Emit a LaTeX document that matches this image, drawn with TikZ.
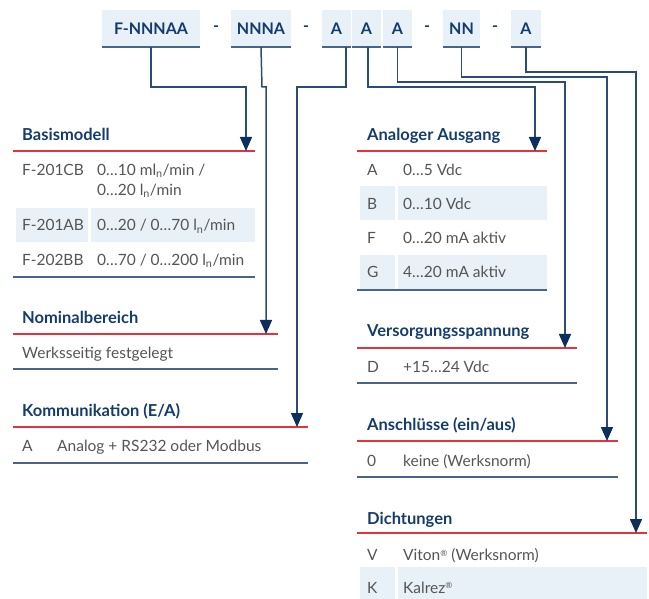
\documentclass[tikz,border=0pt]{standalone}
\usepackage{fontspec}
\setmainfont{Lato}
\usetikzlibrary{arrows.meta}
\definecolor{titlecol}{HTML}{143C6E}
\definecolor{bodycol}{HTML}{555555}
\definecolor{shadecol}{HTML}{E8F0F8}
\definecolor{redcol}{HTML}{E2343F}
\definecolor{endcol}{HTML}{46658C}
\definecolor{conncol}{HTML}{2C4C78}
\definecolor{arrowcol}{HTML}{0D2F5E}
\newcommand{\regm}{\raisebox{0.55ex}{\fontsize{8.5}{8.5}\selectfont ®}}
\begin{document}
\begin{tikzpicture}[x=1pt,y=-1pt,
  codebox/.style={fill=shadecol, minimum height=37pt, inner sep=0pt, text=titlecol, font=\bfseries\fontsize{16}{18}\selectfont},
  dashtxt/.style={inner sep=0pt, text=titlecol, font=\bfseries\fontsize{16}{18}\selectfont},
  boxline/.style={draw=endcol, line width=1.6pt},
  txt/.style={anchor=base west, inner sep=0pt, text=bodycol, font=\fontsize{15.5}{18}\selectfont},
  ttl/.style={anchor=base west, inner sep=0pt, text=titlecol, font=\bfseries\fontsize{16.5}{19}\selectfont},
  redline/.style={draw=redcol, line width=1.3pt},
  endline/.style={draw=endcol, line width=1.6pt},
  shadecell/.style={fill=shadecol},
  conn/.style={draw=conncol, line width=1.5pt, -{Triangle[length=14pt,width=12pt,color=arrowcol]}}
]
\useasboundingbox (0,0) rectangle (649,599);

% ---------- code boxes ----------
\node[codebox, minimum width=98pt] (b1) at (151,28.5) {F-NNNAA};
\node[codebox, minimum width=60pt] (b2) at (261,28.5) {NNNA};
\node[codebox, minimum width=29pt] (b3) at (336.5,28.5) {A};
\node[codebox, minimum width=29pt] (b4) at (366.5,28.5) {A};
\node[codebox, minimum width=29pt] (b5) at (397.5,28.5) {A};
\node[codebox, minimum width=37pt] (b6) at (461.5,28.5) {NN};
\node[codebox, minimum width=30pt] (b7) at (526,28.5) {A};
\foreach \b in {b1,b2,b3,b4,b5,b6,b7}{
  \draw[boxline] (\b.south west) -- (\b.south east);
}
\node[dashtxt] (d1) at (216,28.5) {-};
\node[dashtxt] (d2) at (306,28.5) {-};
\node[dashtxt] (d3) at (427,28.5) {-};
\node[dashtxt] (d4) at (495,28.5) {-};

% ---------- shading ----------
\fill[shadecell] (16,208) rectangle (88,242);
\fill[shadecell] (91,208) rectangle (255,242);
\fill[shadecell] (360,186) rectangle (395,220);
\fill[shadecell] (398,186) rectangle (547,220);
\fill[shadecell] (360,255) rectangle (395,290);
\fill[shadecell] (398,255) rectangle (547,290);
\fill[shadecell] (360,567) rectangle (395,599);
\fill[shadecell] (398,567) rectangle (647,599);

% ---------- section rules ----------
\draw[redline] (13,151) -- (255,151);
\draw[endline] (13,277) -- (255,277);
\draw[redline] (13,334) -- (278,334);
\draw[endline] (13,369) -- (278,369);
\draw[redline] (13,427) -- (308,427);
\draw[endline] (13,463) -- (308,463);

\draw[redline] (357,151) -- (547,151);
\draw[endline] (357,290) -- (547,290);
\draw[redline] (357,348) -- (577,348);
\draw[endline] (357,383) -- (577,383);
\draw[redline] (357,441) -- (618,441);
\draw[endline] (357,477) -- (618,477);
\draw[redline] (357,533) -- (647,533);

% ---------- left texts ----------
\node[ttl] (s1) at (22,140.5) {Basismodell};
\node[txt] (s1c1) at (22,175.5) {F-201CB};
\node[txt] (s1v1) at (97,175.5) {0…10 ml\textsubscript{n}/min /};
\node[txt] (s1v1b) at (97,195.5) {0…20 l\textsubscript{n}/min};
\node[txt] (s1c2) at (22,231) {F-201AB};
\node[txt] (s1v2) at (97,231) {0…20 / 0…70 l\textsubscript{n}/min};
\node[txt] (s1c3) at (22,265.5) {F-202BB};
\node[txt] (s1v3) at (97,265.5) {0…70 / 0…200 l\textsubscript{n}/min};

\node[ttl] (s2) at (22,323.5) {Nominalbereich};
\node[txt] (s2v1) at (22,359) {Werksseitig festgelegt};

\node[ttl] (s3) at (22,417) {Kommunikation (E/A)};
\node[txt] (s3c1) at (22,451.5) {A};
\node[txt] (s3v1) at (57,451.5) {Analog + RS232 oder Modbus};

% ---------- right texts ----------
\node[ttl] (s4) at (367,141) {Analoger Ausgang};
\node[txt] (s4c1) at (367,176) {A};
\node[txt] (s4v1) at (403,176) {0…5 Vdc};
\node[txt] (s4c2) at (367,209.5) {B};
\node[txt] (s4v2) at (403,209.5) {0…10 Vdc};
\node[txt] (s4c3) at (367,243.5) {F};
\node[txt] (s4v3) at (403,243.5) {0…20 mA aktiv};
\node[txt] (s4c4) at (367,278) {G};
\node[txt] (s4v4) at (403,278) {4…20 mA aktiv};

\node[ttl] (s5) at (367,336.5) {Versorgungsspannung};
\node[txt] (s5c1) at (367,373) {D};
\node[txt] (s5v1) at (403,373) {+15…24 Vdc};

\node[ttl] (s6) at (367,430.5) {Anschlüsse (ein/aus)};
\node[txt] (s6c1) at (367,466) {0};
\node[txt] (s6v1) at (403,466) {keine (Werksnorm)};

\node[ttl] (s7) at (367,524.5) {Dichtungen};
\node[txt] (s7c1) at (367,560.5) {V};
\node[txt] (s7v1) at (403,560.5) {Viton\regm{} (Werksnorm)};
\node[txt] (s7c2) at (367,593) {K};
\node[txt] (s7v2) at (403,593) {Kalrez\regm};

% ---------- connector targets ----------
\coordinate (t1) at (246,151);
\coordinate (t2) at (266,334);
\coordinate (t3) at (297,427);
\coordinate (t4) at (535,151);
\coordinate (t5) at (565,348);
\coordinate (t6) at (607,441);
\coordinate (t7) at (636,533);
\coordinate (h87) at (0,87);
\coordinate (h82) at (0,82);
\coordinate (h77) at (0,77);
\coordinate (h72) at (0,72);
\coordinate (a1) at ([xshift=9.5pt]b3.south);
\coordinate (a2) at ([xshift=1.5pt]b4.south);

% ---------- connectors ----------
\draw[conn] (b1.south) -- (b1.south |- h87) -- (t1 |- h87) -- (t1);
\draw[conn] (b2.south) -- ([xshift=1pt]b2.south |- h87) -- (t2 |- h87) -- (t2);
\draw[conn] (a1) -- (a1 |- h87) -- (t3 |- h87) -- (t3);
\draw[conn] (a2) -- (a2 |- h87) -- (t4 |- h87) -- (t4);
\draw[conn] (b5.south) -- (b5.south |- h82) -- (t5 |- h82) -- (t5);
\draw[conn] (b6.south) -- (b6.south |- h77) -- (t6 |- h77) -- (t6);
\draw[conn] (b7.south) -- (b7.south |- h72) -- (t7 |- h72) -- (t7);
\end{tikzpicture}
\end{document}
